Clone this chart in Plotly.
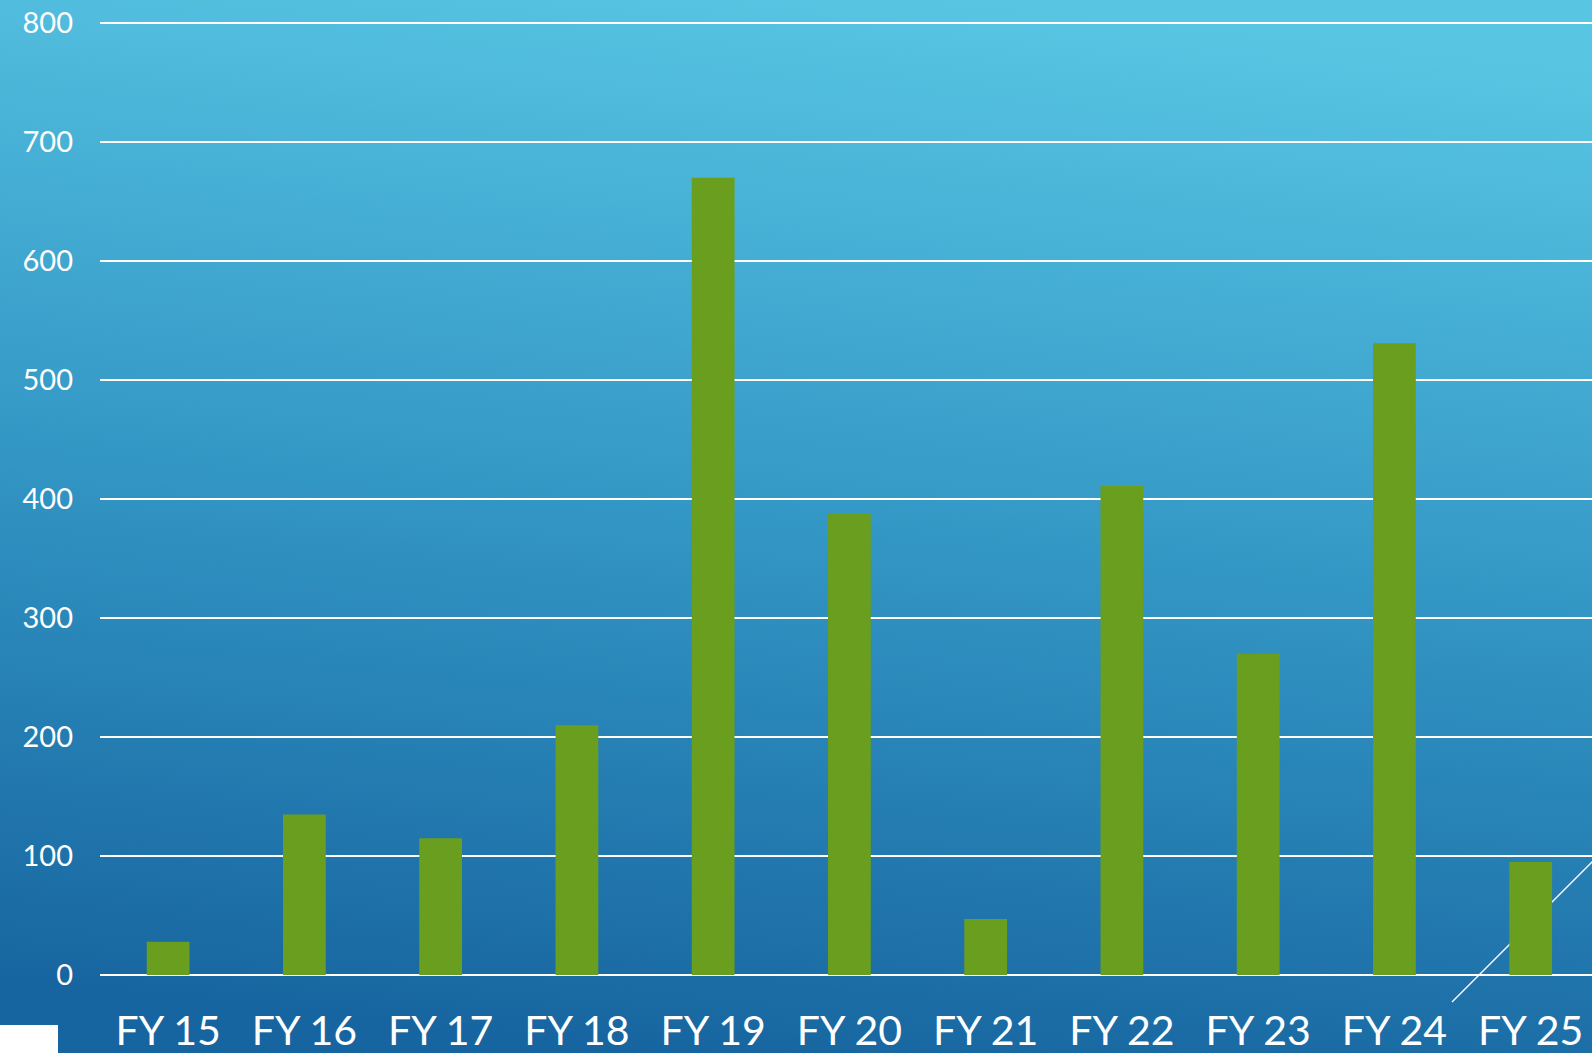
import base64
import plotly.graph_objects as go

# fiscal years and values
years = ["FY 15", "FY 16", "FY 17", "FY 18", "FY 19", "FY 20",
         "FY 21", "FY 22", "FY 23", "FY 24", "FY 25"]
values = [28, 135, 115, 210, 670, 388, 47, 411, 270, 531, 95]
y_ticks = [0, 100, 200, 300, 400, 500, 600, 700, 800]

W, H = 1592, 1053
ML, MR, MT, MB = 100, 0, 22, 78
PW, PH = W - ML - MR, H - MT - MB

# background gradient as an svg image
svg = (
    '<svg xmlns="http://www.w3.org/2000/svg" width="1592" height="1053" '
    'preserveAspectRatio="none" viewBox="0 0 1592 1053">'
    '<defs><linearGradient id="g" x1="0.42" y1="1" x2="0.58" y2="0">'
    '<stop offset="0" stop-color="#1765a0"/>'
    '<stop offset="0.5" stop-color="#3397c5"/>'
    '<stop offset="1" stop-color="#58c5e3"/>'
    '</linearGradient></defs>'
    '<rect width="1592" height="1053" fill="url(#g)"/></svg>'
)
bg_src = "data:image/svg+xml;base64," + base64.b64encode(svg.encode()).decode()


def px_x(x):
    return (x - ML) / PW


def px_y(y):
    return (H - MB - y) / PH


fig = go.Figure(go.Bar(
    x=years, y=values,
    marker_color="#6a9e1f", marker_line_width=0,
))

fig.update_layout(
    width=W, height=H,
    margin=dict(l=ML, r=MR, t=MT, b=MB),
    paper_bgcolor="#3397c5",
    plot_bgcolor="rgba(0,0,0,0)",
    bargap=0.686,
    showlegend=False,
    font=dict(family="Lato, sans-serif", color="white"),
    images=[dict(
        source=bg_src, xref="paper", yref="paper",
        x=px_x(0), y=px_y(0), sizex=W / PW, sizey=H / PH,
        xanchor="left", yanchor="top", sizing="stretch", layer="below",
    )],
    shapes=[
        # thin diagonal line behind the last bar
        dict(type="line", xref="paper", yref="paper",
             x0=px_x(1452), y0=px_y(1002), x1=px_x(1600), y1=px_y(854),
             line=dict(color="white", width=1.5), layer="below"),
        # white block at bottom left
        dict(type="rect", xref="paper", yref="paper",
             x0=px_x(-5), y0=px_y(1025), x1=px_x(58), y1=px_y(1060),
             fillcolor="white", line_width=0, layer="above"),
    ],
)

# plot runs a little past the right edge in the original
fig.update_xaxes(
    range=[-0.5, 10.45],
    showgrid=False, showline=False, ticks="",
    tickfont=dict(size=41), ticklabelstandoff=28,
)
fig.update_yaxes(
    range=[0, 801], tickvals=y_ticks,
    showgrid=True, gridcolor="white", gridwidth=2,
    zeroline=True, zerolinecolor="white", zerolinewidth=2,
    showline=False, ticks="",
    tickfont=dict(size=29), ticklabelstandoff=26,
)

fig.write_html(
    "out.html",
    config={"displayModeBar": False},
    post_script="document.body.style.margin='0';document.body.style.overflow='hidden';",
)
